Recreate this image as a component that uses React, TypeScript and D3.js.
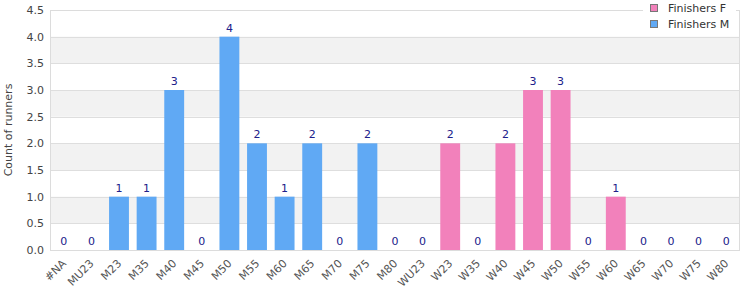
import { scaleBand, scaleLinear, range } from "d3";
import React from "react";

const categories = [
  "#NA", "MU23", "M23", "M35", "M40", "M45", "M50", "M55", "M60", "M65",
  "M70", "M75", "M80", "WU23", "W23", "W35", "W40", "W45", "W50", "W55",
  "W60", "W65", "W70", "W75", "W80",
];
const finishersM = [0, 0, 1, 1, 3, 0, 4, 2, 1, 2, 0, 2, 0, 0, 0, 0, 0, 0, 0, 0, 0, 0, 0, 0, 0];
const finishersF = [0, 0, 0, 0, 0, 0, 0, 0, 0, 0, 0, 0, 0, 0, 2, 0, 2, 3, 3, 0, 1, 0, 0, 0, 0];
const yTicks = [0, 0.5, 1, 1.5, 2, 2.5, 3, 3.5, 4, 4.5];

const colorF = "#f281bb";
const colorM = "#60a9f4";
const font = "DejaVu Sans, Verdana, sans-serif";

const W = 750;
const H = 300;
const m = { top: 10, right: 10, bottom: 50, left: 50 };

export default function App() {
  const x = scaleBand<string>()
    .domain(categories)
    .range([m.left, W - m.right])
    .paddingInner(0.28)
    .paddingOuter(0.14);
  const y = scaleLinear().domain([0, 4.5]).range([H - m.bottom, m.top]);

  const bars = categories.map((c, i) => ({
    c,
    m: finishersM[i]!,
    f: finishersF[i]!,
    total: finishersM[i]! + finishersF[i]!,
  }));

  return (
    <svg width={W} height={H} style={{ position: "absolute", left: 0, top: 0 }}>
      <rect width={W} height={H} fill="#fff" />
      {/* alternating bands */}
      {range(yTicks.length - 1)
        .filter((i) => i % 2 === 1)
        .map((i) => (
          <rect
            key={i}
            x={m.left}
            width={W - m.right - m.left}
            y={y(yTicks[i + 1]!)}
            height={y(yTicks[i]!) - y(yTicks[i + 1]!)}
            fill="#f2f2f2"
          />
        ))}
      {yTicks.map((t) => (
        <line
          key={t}
          x1={m.left}
          x2={W - m.right}
          y1={Math.round(y(t)) + 0.5}
          y2={Math.round(y(t)) + 0.5}
          stroke="#dedede"
        />
      ))}
      <rect
        x={m.left + 0.5}
        y={m.top + 0.5}
        width={W - m.right - m.left - 1}
        height={H - m.bottom - m.top}
        fill="none"
        stroke="#dcdcdc"
      />
      {bars.map((b) => (
        <g key={b.c}>
          {b.m > 0 && (
            <rect x={x(b.c)} width={x.bandwidth()} y={y(b.m)} height={y(0) - y(b.m)} fill={colorM} />
          )}
          {b.f > 0 && (
            <rect
              x={x(b.c)}
              width={x.bandwidth()}
              y={y(b.m + b.f)}
              height={y(b.m) - y(b.m + b.f)}
              fill={colorF}
            />
          )}
          <text
            x={x(b.c)! + x.bandwidth() / 2}
            y={y(b.total) - 5}
            textAnchor="middle"
            fontFamily={font}
            fontSize={11}
            fill="#20208a"
          >
            {b.total}
          </text>
          <text
            transform={`translate(${x(b.c)! + x.bandwidth() / 2 + 1},${H - m.bottom + 12}) rotate(-45)`}
            textAnchor="end"
            dominantBaseline="middle"
            fontFamily={font}
            fontSize={11}
            fill="#555"
          >
            {b.c}
          </text>
        </g>
      ))}
      {yTicks.map((t) => (
        <text
          key={t}
          x={m.left - 6}
          y={y(t)}
          dy="0.35em"
          textAnchor="end"
          fontFamily={font}
          fontSize={11}
          fill="#444"
        >
          {t.toFixed(1)}
        </text>
      ))}
      <text
        transform={`translate(12,${(m.top + H - m.bottom) / 2}) rotate(-90)`}
        textAnchor="middle"
        fontFamily={font}
        fontSize={11}
        fill="#444"
      >
        Count of runners
      </text>
      {/* legend */}
      <g>
        <rect x={643} y={0} width={93} height={32} fill="#fff" />
        {[
          { label: "Finishers F", color: colorF },
          { label: "Finishers M", color: colorM },
        ].map((l, i) => (
          <g key={l.label} transform={`translate(650,${4 + i * 16})`}>
            <rect x={0.5} y={0.5} width={7} height={7} fill={l.color} stroke="#777" />
            <text x={18} y={4} dy="0.35em" fontFamily={font} fontSize={11} fill="#333">
              {l.label}
            </text>
          </g>
        ))}
      </g>
    </svg>
  );
}
